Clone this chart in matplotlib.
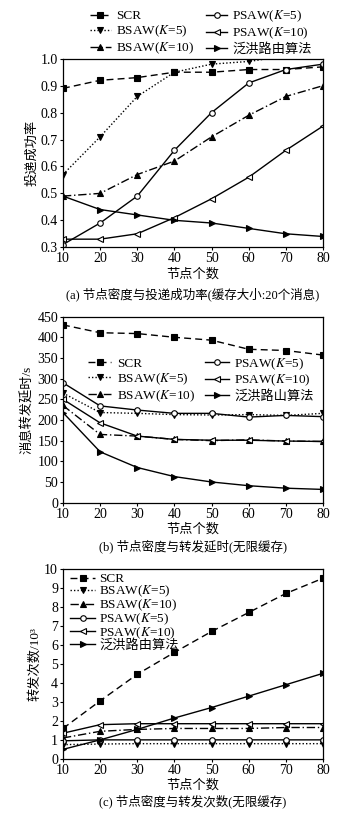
import matplotlib
matplotlib.use("Agg")
import matplotlib.pyplot as plt

plt.rcParams['font.family'] = ['Liberation Serif', 'Noto Sans CJK SC']
plt.rcParams['mathtext.fontset'] = 'stix'
plt.rcParams['axes.unicode_minus'] = False

nodes = [10, 20, 30, 40, 50, 60, 70, 80]

# Panel (a): delivery ratio (buffer 20 messages)
a_scr    = [0.89, 0.92, 0.93, 0.95, 0.95, 0.96, 0.96, 0.97]
a_bsaw5  = [0.57, 0.71, 0.86, 0.95, 0.98, 0.99, 1.01, 1.02]
a_bsaw10 = [0.49, 0.50, 0.57, 0.62, 0.71, 0.79, 0.86, 0.90]
a_psaw5  = [0.31, 0.39, 0.49, 0.66, 0.80, 0.91, 0.96, 0.98]
a_psaw10 = [0.33, 0.33, 0.35, 0.41, 0.48, 0.56, 0.66, 0.75]
a_flood  = [0.49, 0.44, 0.42, 0.40, 0.39, 0.37, 0.35, 0.34]

# Panel (b): forwarding delay / s
b_scr    = [430, 411, 409, 400, 393, 371, 368, 357]
b_bsaw5  = [265, 218, 216, 213, 212, 213, 211, 216]
b_bsaw10 = [235, 165, 161, 153, 150, 152, 149, 148]
b_psaw5  = [290, 234, 224, 216, 216, 207, 211, 208]
b_psaw10 = [250, 193, 161, 153, 151, 151, 149, 148]
b_flood  = [218, 123, 85, 63, 50, 41, 35, 32]

# Panel (c): forwarding count / 10^3
c_scr    = [1.6, 3.05, 4.45, 5.6, 6.7, 7.7, 8.7, 9.5]
c_bsaw5  = [0.75, 0.78, 0.8, 0.8, 0.8, 0.8, 0.8, 0.8]
c_bsaw10 = [1.1, 1.45, 1.55, 1.6, 1.6, 1.6, 1.65, 1.65]
c_psaw5  = [0.95, 1.0, 1.0, 1.0, 1.0, 1.0, 1.0, 1.0]
c_psaw10 = [1.35, 1.8, 1.85, 1.85, 1.85, 1.85, 1.85, 1.85]
c_flood  = [0.5, 1.0, 1.55, 2.15, 2.7, 3.3, 3.9, 4.5]

lab_scr = 'SCR'
lab_b5 = 'BSAW($K$=5)'
lab_b10 = 'BSAW($K$=10)'
lab_p5 = 'PSAW($K$=5)'
lab_p10 = 'PSAW($K$=10)'
lab_flood = '泛洪路由算法'
lab_flood_b = '泛洪路山算法'

styles = {
    'scr':   dict(ls=(0, (5, 3)), marker='s', mfc='black', ms=4),
    'b5':    dict(ls=(0, (1, 1.5)), marker='v', mfc='black', ms=4.5),
    'b10':   dict(ls=(0, (6, 2, 1, 2)), marker='^', mfc='black', ms=4.5),
    'p5':    dict(ls='-', marker='o', mfc='white', ms=4),
    'p10':   dict(ls='-', marker='<', mfc='white', ms=4.5),
    'flood': dict(ls='-', marker='>', mfc='black', ms=4.5),
}

fig = plt.figure(figsize=(3.44, 8.16), dpi=100)
L, W = 0.183, 0.756
ax_a = fig.add_axes([L, 0.697, W, 0.231])
ax_b = fig.add_axes([L, 0.384, W, 0.228])
ax_c = fig.add_axes([L, 0.070, W, 0.233])

def plot_series(ax, data, labels):
    hs = {}
    for key, y in data.items():
        st = styles[key]
        h, = ax.plot(nodes, y, color='black', lw=1.0, linestyle=st['ls'], marker=st['marker'],
                     markerfacecolor=st['mfc'], markeredgecolor='black', markersize=st['ms'],
                     markeredgewidth=0.8, label=labels[key])
        hs[key] = h
    return hs

def style_axes(ax):
    ax.set_xlim(10, 80)
    ax.set_xticks(nodes)
    ax.tick_params(direction='out', length=2.5, width=0.8, labelsize=10, pad=1)
    for s in ax.spines.values():
        s.set_linewidth(0.9)
    ax.set_xlabel('节点个数', fontsize=9.5, labelpad=2)

labels_main = dict(scr=lab_scr, b5=lab_b5, b10=lab_b10, p5=lab_p5, p10=lab_p10, flood=lab_flood)
labels_b = dict(labels_main, flood=lab_flood_b)
order = ['scr', 'b5', 'b10', 'p5', 'p10', 'flood']

# (a)
hs = plot_series(ax_a, dict(scr=a_scr, b5=a_bsaw5, b10=a_bsaw10, p5=a_psaw5, p10=a_psaw10, flood=a_flood), labels_main)
style_axes(ax_a)
ax_a.set_ylim(0.3, 1.0)
ax_a.set_yticks([0.3, 0.4, 0.5, 0.6, 0.7, 0.8, 0.9, 1.0])
ax_a.set_yticklabels(['0.3', '0.4', '0.5', '0.6', '0.7', '0.8', '0.9', '1.0'])
ax_a.set_ylabel('投递成功率', fontsize=9.5, labelpad=2)
ax_a.legend([hs[k] for k in order], [labels_main[k] for k in order], ncol=2, loc='lower center',
            bbox_to_anchor=(0.53, 0.985), frameon=False, fontsize=9.5, handlelength=1.6,
            handletextpad=0.4, columnspacing=0.9, labelspacing=0.12, borderaxespad=0.0)
ax_a.text(0.5, -0.215, '(a) 节点密度与投递成功率(缓存大小:20个消息)', transform=ax_a.transAxes,
          ha='center', va='top', fontsize=9)

# (b)
hs = plot_series(ax_b, dict(scr=b_scr, b5=b_bsaw5, b10=b_bsaw10, p5=b_psaw5, p10=b_psaw10, flood=b_flood), labels_b)
style_axes(ax_b)
ax_b.set_ylim(0, 450)
ax_b.set_yticks(range(0, 451, 50))
ax_b.set_ylabel('消息转发延时/s', fontsize=9.5, labelpad=2)
ax_b.legend([hs[k] for k in order], [labels_b[k] for k in order], ncol=2, loc='upper center',
            bbox_to_anchor=(0.53, 0.815), frameon=False, fontsize=9.5, handlelength=1.8,
            handletextpad=0.4, columnspacing=0.8, labelspacing=0.1, borderaxespad=0.0)
ax_b.text(0.5, -0.2, '(b) 节点密度与转发延时(无限缓存)', transform=ax_b.transAxes,
          ha='center', va='top', fontsize=9)

# (c)
hs = plot_series(ax_c, dict(scr=c_scr, b5=c_bsaw5, b10=c_bsaw10, p5=c_psaw5, p10=c_psaw10, flood=c_flood), labels_main)
style_axes(ax_c)
ax_c.set_ylim(0, 10)
ax_c.set_yticks(range(0, 11))
ax_c.set_ylabel('转发次数/10³', fontsize=9.5, labelpad=2)
ax_c.legend([hs[k] for k in order], [labels_main[k] for k in order], ncol=1, loc='upper left',
            bbox_to_anchor=(0.0, 1.015), frameon=False, fontsize=9.5, handlelength=1.9,
            handletextpad=0.3, labelspacing=-0.12, borderaxespad=0.15)
ax_c.text(0.5, -0.19, '(c) 节点密度与转发次数(无限缓存)', transform=ax_c.transAxes,
          ha='center', va='top', fontsize=9)

fig.savefig('out.png', dpi=100)
